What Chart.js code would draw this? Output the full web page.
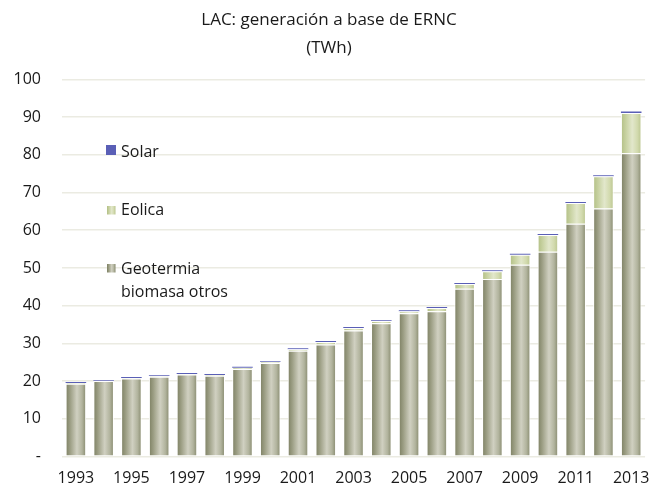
<!DOCTYPE html>
<html>
<head>
<meta charset="utf-8">
<script src="https://cdn.jsdelivr.net/npm/chart.js@4"></script>
<style>
html,body{margin:0;padding:0;background:#fff;}
#wrap{width:662px;height:487px;position:relative;}
canvas{display:block;}
</style>
</head>
<body>
<div id="wrap"><canvas id="c" width="662" height="487"></canvas></div>
<script>
// ---- data (TWh) ----
const years = ['1993','1994','1995','1996','1997','1998','1999','2000','2001','2002','2003',
               '2004','2005','2006','2007','2008','2009','2010','2011','2012','2013'];
const geotermiaBiomasa = [19.3,20.0,20.7,21.1,21.75,21.4,23.2,24.8,28.0,29.7,33.4,
                          35.3,38.0,38.5,44.5,47.1,50.85,54.3,61.7,65.8,80.4];
const eolica = [0.2,0.05,0.12,0.2,0.12,0.2,0.35,0.28,0.46,0.64,0.65,
                0.6,0.54,0.9,1.27,2.05,2.67,4.45,5.5,8.5,10.7];
const solar = [0.25,0.25,0.25,0.25,0.25,0.25,0.25,0.25,0.25,0.25,0.25,
               0.25,0.25,0.25,0.25,0.25,0.25,0.25,0.3,0.3,0.4];
const titleLines = ['LAC: generación a base de ERNC', '(TWh)'];
const legendLabels = [['Solar'], ['Eolica'], ['Geotermia', 'biomasa otros']];
const yMax = 100, yStep = 10;

const FONT = "'Open Sans', sans-serif";
const TEXT = '#1a1a1a';
const BAR_PCT = 0.74;

const geoStops = [[0,'#7c7f62'],[0.22,'#9c9e84'],[0.55,'#d0d0c1'],[0.8,'#b2b49e'],[1,'#85886c']];
const eolStops = [[0,'#b2bf84'],[0.25,'#c8d2a2'],[0.55,'#e2e7cb'],[0.8,'#d2daae'],[1,'#b9c48d']];

function gradFill(stops, solid) {
  return function(ctx) {
    if (ctx.type !== 'data') return solid;
    const chart = ctx.chart, xs = chart.scales.x, area = chart.chartArea;
    if (!xs || !area) return solid;
    const cx = xs.getPixelForValue(ctx.dataIndex);
    const w = (area.right - area.left) / years.length * BAR_PCT;
    const g = chart.ctx.createLinearGradient(cx - w/2, 0, cx + w/2, 0);
    stops.forEach(s => g.addColorStop(s[0], s[1]));
    return g;
  };
}

const legendPlugin = {
  id: 'sideLegend',
  afterDraw(chart) {
    const c = chart.ctx;
    c.save();
    c.font = '16px ' + FONT;
    c.fillStyle = TEXT;
    c.textBaseline = 'alphabetic';
    c.textAlign = 'left';
    const rows = [
      {base:157, box:[106,145,10], kind:'solar'},
      {base:215, box:[107,206,8.5], kind:'eol'},
      {base:274, box:[107,264,8.5], kind:'geo'}
    ];
    rows.forEach((r, i) => {
      const [bx, by, bs] = r.box;
      if (r.kind === 'solar') c.fillStyle = '#5a5fb6';
      else {
        const g = c.createLinearGradient(bx, 0, bx + bs, 0);
        (r.kind === 'eol' ? eolStops : geoStops).forEach(s => g.addColorStop(s[0], s[1]));
        c.fillStyle = g;
      }
      c.fillRect(bx, by, bs, bs);
      c.fillStyle = TEXT;
      legendLabels[i].forEach((t, j) => c.fillText(t, 121, r.base + j * 22.7));
    });
    c.restore();
  }
};

Chart.defaults.font.family = FONT;
Chart.defaults.color = TEXT;

new Chart(document.getElementById('c'), {
  type: 'bar',
  data: {
    labels: years,
    datasets: [
      {
        label: 'Geotermia biomasa otros',
        data: geotermiaBiomasa,
        backgroundColor: gradFill(geoStops, '#a5a78e'),
        borderColor: '#ffffff',
        borderWidth: {top: 1, left: 1, right: 1, bottom: 0},
        borderSkipped: 'start'
      },
      {
        label: 'Eolica',
        data: eolica,
        backgroundColor: gradFill(eolStops, '#d0d8aa'),
        borderColor: '#ffffff',
        borderWidth: {top: 1, left: 1, right: 1, bottom: 0},
        borderSkipped: 'start'
      },
      {
        label: 'Solar',
        data: solar,
        backgroundColor: '#5a5fb6',
        borderWidth: 0
      }
    ]
  },
  options: {
    responsive: false,
    animation: false,
    devicePixelRatio: 1,
    layout: {padding: {left: 0, right: 4, top: 0, bottom: 0}},
    datasets: {bar: {barPercentage: BAR_PCT, categoryPercentage: 1}},
    plugins: {
      legend: {display: false},
      tooltip: {enabled: false},
      title: {
        display: true,
        text: titleLines,
        color: TEXT,
        font: {size: 17, weight: 'normal', lineHeight: '28px'},
        padding: {top: 6, bottom: 17.5}
      }
    },
    scales: {
      x: {
        stacked: true,
        afterFit: function(s) { s.height = 30.3; },
        grid: {display: false, drawTicks: false},
        border: {display: false},
        ticks: {
          autoSkip: false, maxRotation: 0, minRotation: 0,
          padding: 12.4,
          font: {size: 16},
          color: TEXT,
          callback: function(v, i) { return i % 2 === 0 ? years[i] : ''; }
        }
      },
      y: {
        stacked: true,
        min: 0, max: yMax,
        afterFit: function(s) { s.width = 62; },
        grid: {color: '#ebebe2', lineWidth: 1.6, drawTicks: false},
        border: {display: false},
        ticks: {
          stepSize: yStep,
          padding: 21,
          font: {size: 16},
          color: TEXT,
          callback: function(v) { return v === 0 ? '-' : v; }
        }
      }
    }
  },
  plugins: [legendPlugin]
});
</script>
</body>
</html>
